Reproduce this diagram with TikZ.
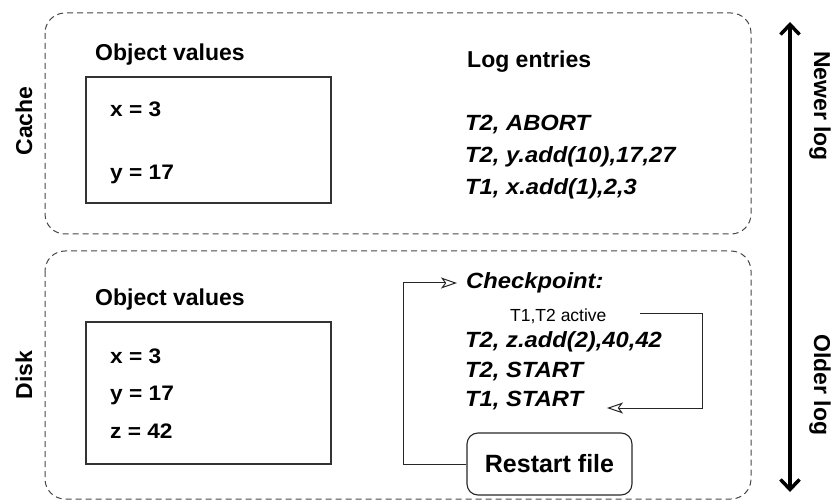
\documentclass[tikz,border=0pt]{standalone}
\usepackage{fontspec}
\setmainfont{Liberation Sans}
\newfontfamily\wfont[FakeStretch=1.08]{Liberation Sans}
\usetikzlibrary{arrows.meta}
\definecolor{dashgray}{RGB}{70,70,70}
\begin{document}
\begin{tikzpicture}[x=1pt,y=-1pt,
  region/.style={draw=dashgray,dash pattern=on 6pt off 4pt,rounded corners=20pt,line width=1pt},
  valbox/.style={draw=black!80,line width=1.2pt},
  hdr/.style={font=\fontsize{23}{25}\selectfont\bfseries,inner sep=0pt},
  val/.style={font=\wfont\fontsize{21}{23}\selectfont\bfseries,inner sep=0pt,anchor=base west},
  entry/.style={font=\wfont\fontsize{22}{24}\selectfont\bfseries\itshape,inner sep=0pt,anchor=base west},
  small/.style={font=\fontsize{17.5}{19}\selectfont,inner sep=0pt,anchor=base west},
  wire/.style={line width=1pt,draw=black!85},
  opentip/.style={-{Stealth[open,length=16pt,width=11pt,inset=4pt]}}
]
\useasboundingbox (0,0) rectangle (840,502);

% regions
\draw[region] (45,13) rectangle (751,234);
\draw[region] (45,251) rectangle (751,499);

% side labels
\node[hdr,rotate=90] (cachelbl) at (24,121) {Cache};
\node[hdr,rotate=90] (disklbl) at (24,375) {Disk};

% cache object values
\node[hdr,anchor=base west] (cobjhdr) at (95,61) {Object values};
\draw[valbox] (86,77) rectangle (331,203);
\node[val] (cx) at (110,117) {x = 3};
\node[val] (cy) at (110,180) {y = 17};

% cache log entries
\node[hdr,anchor=base west] (loghdr) at (467,68) {Log entries};
\node[entry] (e1) at (465,131) {T2, ABORT};
\node[entry] (e2) at (465,163) {T2, y.add(10),17,27};
\node[entry] (e3) at (465,195) {T1, x.add(1),2,3};

% disk object values
\node[hdr,anchor=base west] (dobjhdr) at (95,306) {Object values};
\draw[valbox] (86,322) rectangle (331,464);
\node[val] (dx) at (110,363) {x = 3};
\node[val] (dy) at (110,400) {y = 17};
\node[val] (dz) at (110,438) {z = 42};

% disk log
\node[entry] (chk) at (466,289) {Checkpoint:};
\node[small] (active) at (510,322) {T1,T2 active};
\node[entry] (d1) at (465,347) {T2, z.add(2),40,42};
\node[entry] (d2) at (465,377) {T2, START};
\node[entry] (d3) at (465,406) {T1, START};

\node[draw=black!85,line width=1.1pt,rounded corners=11pt,minimum width=165pt,minimum height=62pt,
      font=\fontsize{25}{27}\selectfont\bfseries,inner sep=0pt] (restart) at (549.5,464) {Restart file};

% connectors
\coordinate (lcorner) at (403,464);
\coordinate (chkin) at (457,283);
\draw[wire,opentip] (restart.west) -- (lcorner) |- (chkin);

\coordinate (actout) at (640,314);
\coordinate (rcorner) at (702,314);
\coordinate (t1in) at (607,408);
\draw[wire,opentip] (actout) -- (rcorner) |- (t1in);

% time arrow
\coordinate (newtop) at (790,22);
\coordinate (oldbot) at (790,492);
\draw[line width=3.5pt,{Straight Barb[length=10pt,width=19pt]}-{Straight Barb[length=10pt,width=19pt]}] (newtop) -- (oldbot);
\node[hdr,rotate=-90] (newer) at (820,106) {Newer log};
\node[hdr,rotate=-90] (older) at (820,385) {Older log};
\end{tikzpicture}
\end{document}
